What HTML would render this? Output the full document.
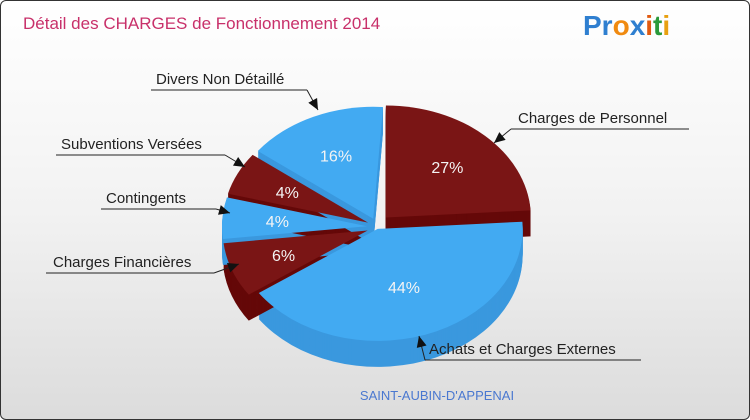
<!DOCTYPE html>
<html><head><meta charset="utf-8"><style>
html,body{margin:0;padding:0}
body{width:750px;height:420px;overflow:hidden;font-family:"Liberation Sans",sans-serif}
#wrap{position:absolute;left:0;top:0;width:748px;height:418px;border:1px solid #333;border-radius:6px;background:linear-gradient(#ffffff,#f2f2f2 50%,#dcdcdc);overflow:hidden}
</style></head><body>
<div id="wrap">
<svg id="svg" width="750" height="420" style="position:absolute;left:0;top:0">
<text x="22" y="28" font-size="17" fill="#c8306a">Détail des CHARGES de Fonctionnement 2014</text>
<text x="582" y="34" font-size="28" font-weight="bold"><tspan fill="#2f7fd0">Pr</tspan><tspan fill="#f08a10">o</tspan><tspan fill="#2f7fd0">x</tspan><tspan fill="#e05a10">i</tspan><tspan fill="#2a9a3a">t</tspan><tspan fill="#e8a010">i</tspan></text>
<g id="pie"></g>
<g id="labels" font-size="15" fill="#222"></g>
<text x="436" y="399" font-size="13" fill="#4a78d0" text-anchor="middle">SAINT-AUBIN-D'APPENAI</text>
</svg>
</div>
<script>
const categories=["Charges de Personnel","Achats et Charges Externes","Charges Financières","Contingents","Subventions Versées","Divers Non Détaillé"];
const values=[27,44,6,4,4,16];
const pctLabels=["27%","44%","6%","4%","4%","16%"];
const NS="http://www.w3.org/2000/svg";
const cx=376,cy=226,rx=145,ry=112,depth=26;
const explodes=[13,2,10,10,10,9];
const tops=["#7a1515","#42aaf2"],sides=["#650808","#3a98de"];
const wpX=[-90,7,86,166,187,202,216,245,274];
const wpY=[0,-10,-18,-18,-10,-2,6,9,3];
const pie=document.getElementById('pie');
const total=values.reduce((a,b)=>a+b,0);
const D=Math.PI/180;
function warp(t){const d=t/D;let o=wpY[wpY.length-1];
  for(let k=0;k<wpX.length-1;k++){if(d>=wpX[k]&&d<=wpX[k+1]){o=wpY[k]+(wpY[k+1]-wpY[k])*(d-wpX[k])/(wpX[k+1]-wpX[k]);break;}}
  return (d+o)*D;}
function pt(a,ox,oy,r){return [ox+rx*r*Math.cos(a),oy+ry*r*Math.sin(a)];}
function slicePath(a0,a1,ox,oy){
  const p0=pt(a0,ox,oy,1),p1=pt(a1,ox,oy,1);
  const large=(a1-a0)>Math.PI?1:0;
  return `M${ox},${oy}L${p0[0]},${p0[1]}A${rx},${ry} 0 ${large} 1 ${p1[0]},${p1[1]}Z`;
}
let a=-Math.PI/2;
const slices=[];
values.forEach((v,i)=>{
  const t0=a,t1=a+v/total*2*Math.PI;a=t1;
  const a0=warp(t0),a1=warp(t1);
  const m=(a0+a1)/2;
  const ex=explodes[i];
  slices.push({i,a0,a1,m,ox:cx+ex*Math.cos(m),oy:cy+ex*Math.sin(m)});
});
slices.forEach(s=>{
  for(let d=depth;d>0;d--){
    const p=document.createElementNS(NS,'path');
    p.setAttribute('d',slicePath(s.a0,s.a1,s.ox,s.oy+d));
    p.setAttribute('fill',sides[s.i%2]);
    
    
    pie.appendChild(p);
  }
});
slices.forEach(s=>{
  const p=document.createElementNS(NS,'path');
  p.setAttribute('d',slicePath(s.a0,s.a1,s.ox,s.oy));
  p.setAttribute('fill',tops[s.i%2]);
  
  
  pie.appendChild(p);
  const t=document.createElementNS(NS,'text');
  const r=s.i===1?0.55:0.62;
  const q=pt(s.m,s.ox,s.oy,r);
  t.setAttribute('x',q[0]);t.setAttribute('y',q[1]+6);
  t.setAttribute('text-anchor','middle');t.setAttribute('font-size','16');t.setAttribute('fill','#f4f4f4');
  t.textContent=pctLabels[s.i];
  
  
  pie.appendChild(t);
});
const callouts=[
 {t:0,x:517,y:122,lx1:510,lx2:688,ax:493,ay:142,from:510},
 {t:1,x:428,y:353,lx1:424,lx2:640,ax:418,ay:335,from:424},
 {t:2,x:52,y:266,lx1:45,lx2:213,ax:238,ay:263,from:213},
 {t:3,x:105,y:202,lx1:100,lx2:215,ax:229,ay:212,from:215},
 {t:4,x:60,y:148,lx1:55,lx2:224,ax:244,ay:166,from:224},
 {t:5,x:155,y:83,lx1:150,lx2:306,ax:317,ay:109,from:306}
];
const lg=document.getElementById('labels');
callouts.forEach(c=>{
  const ly=c.y+6;
  const l=document.createElementNS(NS,'path');
  l.setAttribute('d',`M${c.lx1},${ly}H${c.lx2}M${c.from},${ly}L${c.ax},${c.ay}`);
  l.setAttribute('stroke','#222');l.setAttribute('fill','none');l.setAttribute('stroke-width','1');
  
  
  lg.appendChild(l);
  const ang=Math.atan2(c.ay-ly,c.ax-c.from);
  const h=document.createElementNS(NS,'path');
  const L=11,W=5;
  const bx=c.ax-L*Math.cos(ang),by=c.ay-L*Math.sin(ang);
  h.setAttribute('d',`M${c.ax},${c.ay}L${bx-W*Math.sin(ang)},${by+W*Math.cos(ang)}L${bx+W*Math.sin(ang)},${by-W*Math.cos(ang)}Z`);
  h.setAttribute('fill','#111');
  
  
  lg.appendChild(h);
  const t=document.createElementNS(NS,'text');
  t.setAttribute('x',c.x);t.setAttribute('y',c.y);
  t.textContent=categories[c.t];
  
  
  lg.appendChild(t);
});
</script>
</body></html>
